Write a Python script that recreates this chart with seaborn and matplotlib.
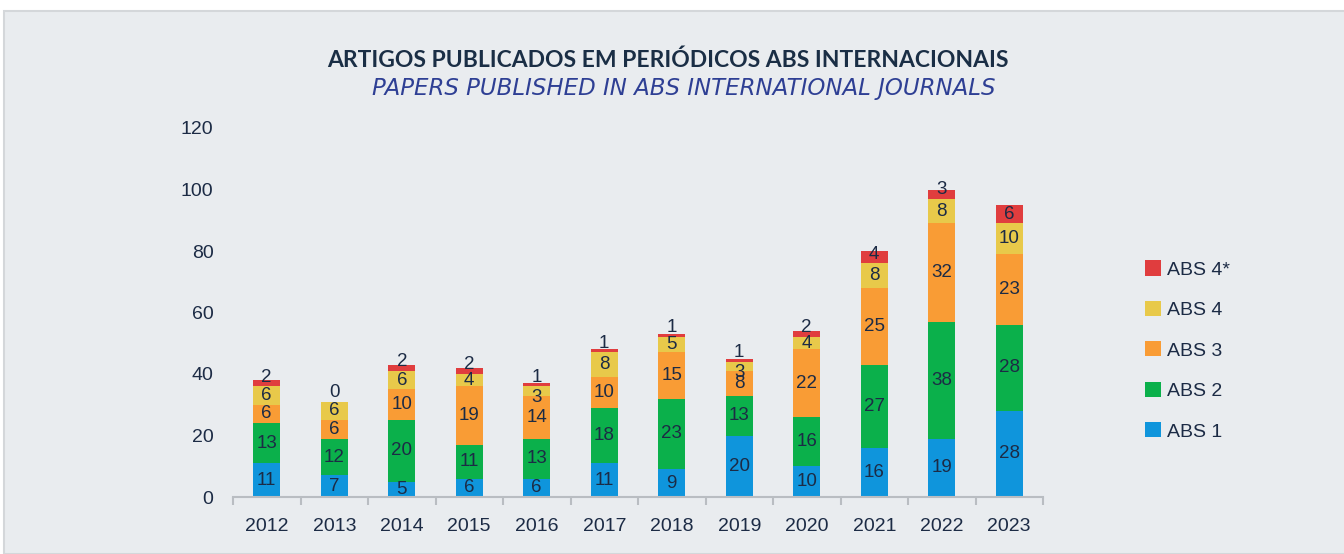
import numpy as np
import pandas as pd
import seaborn as sns
import matplotlib.pyplot as plt
from matplotlib.patches import Patch, Rectangle

years = ['2012', '2013', '2014', '2015', '2016', '2017', '2018', '2019', '2020', '2021', '2022', '2023']
levels = ['ABS 1', 'ABS 2', 'ABS 3', 'ABS 4', 'ABS 4*']
abs1 = [11, 7, 5, 6, 6, 11, 9, 20, 10, 16, 19, 28]
abs2 = [13, 12, 20, 11, 13, 18, 23, 13, 16, 27, 38, 28]
abs3 = [6, 6, 10, 19, 14, 10, 15, 8, 22, 25, 32, 23]
abs4 = [6, 6, 6, 4, 3, 8, 5, 3, 4, 8, 8, 10]
abs4s = [2, 0, 2, 2, 1, 1, 1, 1, 2, 4, 3, 6]
colors = ['#0f95dc', '#0bb04b', '#f99c35', '#e8c94a', '#e03d3e']

TEXT = '#1c2b45'


def main():
    df = pd.DataFrame({'year': years, 'ABS 1': abs1, 'ABS 2': abs2,
                       'ABS 3': abs3, 'ABS 4': abs4, 'ABS 4*': abs4s})
    cum = df[levels].cumsum(axis=1)

    sns.set_style('white')
    plt.rcParams['font.family'] = ['Liberation Sans', 'DejaVu Sans']

    fig = plt.figure(figsize=(13.44, 5.54), dpi=100)
    fig.patch.set_facecolor('white')
    # grey panel behind the chart
    fig.patches.append(Rectangle((4 / 1344, 0), 1, 1 - 11 / 554, transform=fig.transFigure,
                                 facecolor='#e9ecef', edgecolor='#d4d7da', lw=1.5, zorder=-10))

    ax = fig.add_axes([233 / 1344, 1 - 497 / 554, 810 / 1344, 369 / 554])
    ax.set_facecolor('none')

    # draw cumulative bars from top layer down so they stack
    for i in range(len(levels) - 1, -1, -1):
        sns.barplot(x=df['year'], y=cum[levels[i]], color=colors[i], width=0.4,
                    saturation=1, linewidth=0, ax=ax, order=years)

    # segment labels
    n = len(levels)
    for j in range(len(years)):
        for i, lev in enumerate(levels):
            val = df.loc[j, lev]
            top = cum.loc[j, lev]
            yc = top - val / 2
            if i == n - 1:
                yc = max(yc, top + 3 - val)
            elif i == n - 2 and val <= 3:
                yc -= 2
            ax.text(j, yc, str(val), ha='center', va='center', fontsize=13.5,
                    color=TEXT, zorder=5)

    ax.set_xlim(-0.5, 11.5)
    ax.set_ylim(0, 120)
    ax.set_yticks(range(0, 121, 20))
    ax.set_xlabel('')
    ax.set_ylabel('')
    for s in ['top', 'right', 'left']:
        ax.spines[s].set_visible(False)
    ax.spines['bottom'].set_color('#b9bdc2')
    ax.spines['bottom'].set_linewidth(1.5)
    ax.set_xticks(np.arange(-0.5, 12, 1), minor=True)
    ax.tick_params(axis='x', which='minor', length=6, width=1.5, color='#b9bdc2', bottom=True)
    ax.tick_params(axis='x', which='major', length=0, pad=15, labelsize=14, labelcolor=TEXT)
    ax.tick_params(axis='y', length=0, pad=14, labelsize=14, labelcolor=TEXT)

    fig.text(0.497, 1 - 60 / 554, 'ARTIGOS PUBLICADOS EM PERIÓDICOS ABS INTERNACIONAIS',
             ha='center', va='center', fontsize=16.5, fontweight='bold', color='#1a2e45',
             family=['Lato', 'DejaVu Sans'])
    fig.text(0.509, 1 - 88 / 554, 'PAPERS PUBLISHED IN ABS INTERNATIONAL JOURNALS',
             ha='center', va='center', fontsize=16.5, style='italic', color='#2e3f94',
             family=['DejaVu Sans'])

    handles = [Patch(facecolor=colors[i], edgecolor='none', label=levels[i])
               for i in range(len(levels) - 1, -1, -1)]
    fig.legend(handles=handles, loc='center left', bbox_to_anchor=(1145 / 1344, 1 - 350.5 / 554),
               frameon=False, fontsize=14, handlelength=0.82, handleheight=0.82,
               handletextpad=0.3, labelspacing=1.14, borderpad=0, borderaxespad=0,
               labelcolor=TEXT)

    fig.savefig('out.png', dpi=100, facecolor=fig.get_facecolor())


if __name__ == "__main__":
    main()
